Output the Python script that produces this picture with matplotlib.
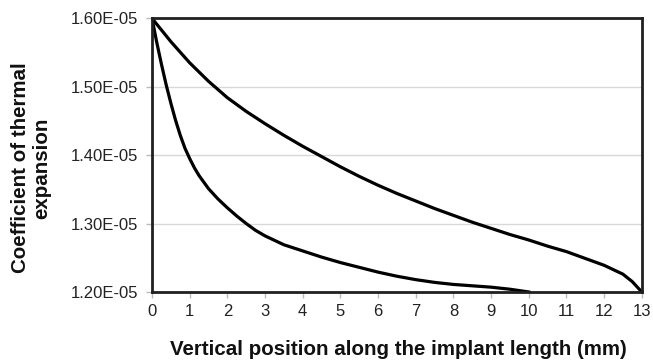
import matplotlib
matplotlib.use("Agg")
import matplotlib.pyplot as plt
import numpy as np

plt.rcParams['font.family'] = ['Liberation Sans', 'DejaVu Sans']

# Position along implant (mm)
x_upper = [0, 0.5, 1, 1.5, 2, 2.5, 3, 3.5, 4, 4.5, 5, 5.5, 6, 6.5, 7, 7.5, 8,
           8.5, 9, 9.5, 10, 10.5, 11, 11.5, 12, 12.5, 12.75, 13]
cte_upper = [1.600, 1.566, 1.535, 1.508, 1.484, 1.464, 1.446, 1.429, 1.413,
             1.398, 1.383, 1.369, 1.356, 1.344, 1.333, 1.322, 1.312, 1.302,
             1.293, 1.284, 1.276, 1.267, 1.259, 1.249, 1.239, 1.226, 1.215,
             1.200]

x_lower = [0, 0.125, 0.25, 0.375, 0.5, 0.625, 0.75, 0.875, 1, 1.125, 1.25,
           1.5, 1.75, 2, 2.25, 2.5, 2.75, 3, 3.5, 4, 4.5, 5, 5.5, 6, 6.5, 7,
           7.5, 8, 8.5, 9, 9.5, 10]
cte_lower = [1.600, 1.565, 1.533, 1.503, 1.476, 1.451, 1.429, 1.410, 1.395,
             1.3815, 1.370, 1.351, 1.336, 1.323, 1.311, 1.300, 1.290, 1.282,
             1.269, 1.260, 1.251, 1.243, 1.236, 1.229, 1.223, 1.218, 1.214,
             1.211, 1.209, 1.207, 1.204, 1.200]

scale = 1e-5
y_ticks = [1.20, 1.30, 1.40, 1.50, 1.60]
y_tick_labels = ['1.20E-05', '1.30E-05', '1.40E-05', '1.50E-05', '1.60E-05']
x_ticks = list(range(0, 14))

fig = plt.figure(figsize=(6.53, 3.60), dpi=100)
ax = fig.add_axes([0.2328, 0.189, 0.750, 0.760])

ax.plot(np.array(x_upper), np.array(cte_upper) * scale, color='black', lw=2.3)
ax.plot(np.array(x_lower), np.array(cte_lower) * scale, color='black', lw=2.3)

ax.set_xlim(0, 13)
ax.set_ylim(1.2e-5, 1.6e-5)
ax.set_yticks([v * scale for v in y_ticks])
ax.set_yticklabels(y_tick_labels)
ax.set_xticks(x_ticks)
ax.set_xticklabels([str(t) for t in x_ticks])

ax.grid(axis='y', color='#d8d8d8', lw=1.0)
ax.set_axisbelow(True)
for s in ax.spines.values():
    s.set_color('#202020')
    s.set_linewidth(2.0)

ax.tick_params(axis='both', labelsize=12, colors='#bbbbbb', labelcolor='#222222',
               length=4, width=1, direction='out')
ax.tick_params(axis='x', pad=5)
ax.tick_params(axis='y', pad=6)

fig.text(0.6095, 0.030, 'Vertical position along the implant length (mm)',
         fontsize=14.8, fontweight='bold', color='#111111',
         ha='center', va='center')
fig.text(0.0475, 0.533, 'Coefficient of thermal\nexpansion', fontsize=14.8,
         fontweight='bold', color='#111111', rotation=90,
         ha='center', va='center', multialignment='center', linespacing=1.1)

fig.savefig('out.png', dpi=100)
